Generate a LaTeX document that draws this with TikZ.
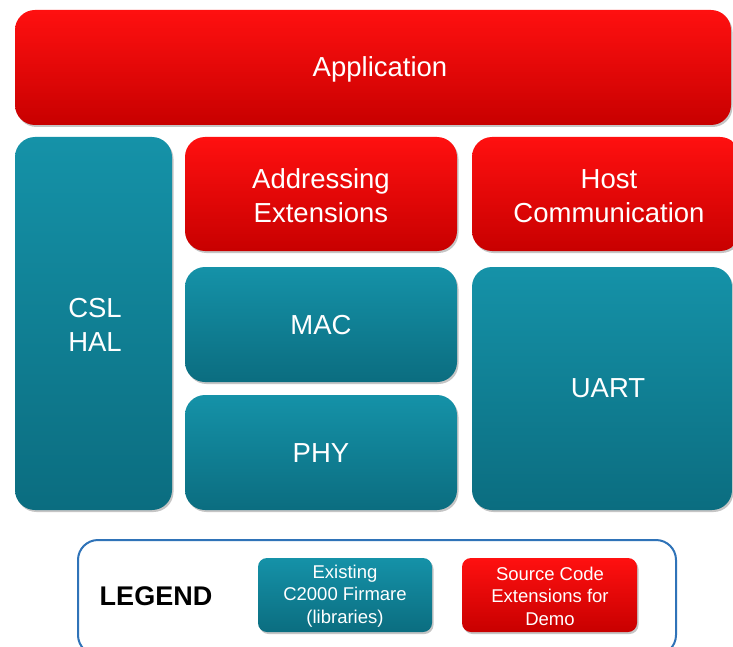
\documentclass[tikz,border=0pt]{standalone}
\usepackage{fontspec}
\setmainfont{Liberation Sans}
\usetikzlibrary{shadows}
\definecolor{redtop}{HTML}{FF1010}
\definecolor{redbot}{HTML}{C80000}
\definecolor{tealtop}{HTML}{1592A8}
\definecolor{tealbot}{HTML}{0B6D80}
\definecolor{legblue}{HTML}{2F73B8}
\tikzset{
  base/.style={rounded corners=20pt, draw=none,
    drop shadow={shadow xshift=1.5pt, shadow yshift=-2pt, fill=black!45, opacity=0.5}},
  redbox/.style={base, top color=redtop, bottom color=redbot},
  tealbox/.style={base, top color=tealtop, bottom color=tealbot},
  bigtxt/.style={text=white, align=center, font=\fontsize{27.5}{34}\selectfont},
  smalltxt/.style={text=white, align=center, font=\fontsize{18.5}{22.5}\selectfont},
  legred/.style={redbox, rounded corners=9pt},
  legteal/.style={tealbox, rounded corners=9pt},
}
\begin{document}
\begin{tikzpicture}[x=1pt,y=-1pt]
\useasboundingbox (0,0) rectangle (733,647);
\fill[white] (0,0) rectangle (733,647);
% boxes
\path[redbox] (15,10) rectangle (731,125);
\node[bigtxt] (app) at (380,69) {Application};

\path[tealbox] (15,137) rectangle (172,510);
\node[bigtxt] (csl) at (95,325) {CSL\\HAL};

\path[redbox] (185,137) rectangle (457,251);
\node[bigtxt] (addr) at (321,196) {Addressing\\Extensions};

\path[redbox] (472,137) rectangle (740,251);
\node[bigtxt] (host) at (609,196) {Host\\Communication};

\path[tealbox] (185,267) rectangle (457,382);
\node[bigtxt] (mac) at (321,325) {MAC};

\path[tealbox] (185,395) rectangle (457,510);
\node[bigtxt] (phy) at (321,453) {PHY};

\path[tealbox] (472,267) rectangle (732,510);
\node[bigtxt] (uart) at (608,388) {UART};

% legend
\draw[legblue, line width=2pt, rounded corners=20pt] (78,540) rectangle (676,655);
\node[font=\fontsize{27}{30}\selectfont\bfseries] (leg) at (156,596) {LEGEND};
\path[legteal] (258,558) rectangle (432,632);
\node[smalltxt] (exist) at (345,596) {Existing\\C2000 Firmare\\(libraries)};
\path[legred] (462,558) rectangle (637,632);
\node[smalltxt] (src) at (550,596) {Source Code\\Extensions for\\Demo};
\end{tikzpicture}
\end{document}
